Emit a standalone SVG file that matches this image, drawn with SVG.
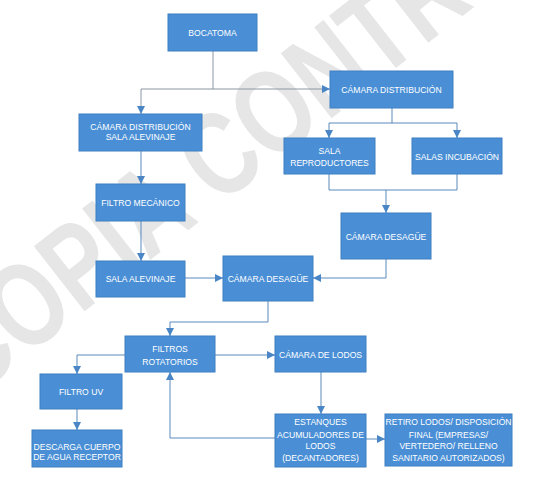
<svg xmlns="http://www.w3.org/2000/svg" width="547" height="477" viewBox="0 0 547 477">
<defs>
<style>
.bg{fill:#ffffff}
.wm{fill:#e6e6e6;font-family:"Liberation Sans",Arial,sans-serif;font-size:92px;font-weight:bold}
.box{fill:#4a8fd6;stroke:#3f7fc1;stroke-width:1}
.t{fill:#ffffff;font-family:"Liberation Sans",Arial,sans-serif;font-size:8.6px;text-anchor:middle}
.c{fill:none;stroke:#5b89bb;stroke-width:1}
.g{stroke:#8a96a3}
</style>
<marker id="ah" viewBox="0 0 10 10" refX="10" refY="5" markerWidth="8" markerHeight="8" markerUnits="userSpaceOnUse" orient="auto">
<path d="M0,0 L10,5 L0,10 z" fill="#4a86c5"/>
</marker>
</defs>
<rect class="bg" x="0" y="0" width="547" height="477"/>
<text class="wm" transform="translate(-29,400) rotate(-38) scale(1,1.3)">COPIA CONTROLADA</text>

<g id="connectors">
<path class="c g" d="M213,51 V89 H141 V114" marker-end="url(#ah)"/>
<path class="c g" d="M213,89 H330" marker-end="url(#ah)"/>
<path class="c" d="M392,108 V123 H329 V138" marker-end="url(#ah)"/>
<path class="c" d="M392,123 H457 V138" marker-end="url(#ah)"/>
<path class="c" d="M141,151 V184" marker-end="url(#ah)"/>
<path class="c" d="M141,221 V261" marker-end="url(#ah)"/>
<path class="c" d="M329,174 V190 H457 V174"/>
<path class="c" d="M386,190 V213" marker-end="url(#ah)"/>
<path class="c" d="M185,278 H223" marker-end="url(#ah)"/>
<path class="c" d="M386,259 V278 H313" marker-end="url(#ah)"/>
<path class="c" d="M268,301 V322 H170 V336" marker-end="url(#ah)"/>
<path class="c" d="M215,355 H275" marker-end="url(#ah)"/>
<path class="c" d="M125,355 H77 V374" marker-end="url(#ah)"/>
<path class="c" d="M77,409 V430" marker-end="url(#ah)"/>
<path class="c" d="M321,372 V414" marker-end="url(#ah)"/>
<path class="c" d="M366,439 H385" marker-end="url(#ah)"/>
<path class="c" d="M275,438 H170 V372" marker-end="url(#ah)"/>
</g>

<g id="bocatoma"><rect class="box" x="168" y="14" width="89" height="37"/><text class="t" x="212.5" y="35.6">BOCATOMA</text></g>
<g id="camara-distribucion"><rect class="box" x="330" y="71" width="123" height="37"/><text class="t" x="391.5" y="92.6">CÁMARA DISTRIBUCIÓN</text></g>
<g id="camara-distribucion-sala-alevinaje"><rect class="box" x="79" y="114" width="123" height="37"/><text class="t" x="140.5" y="129.8">CÁMARA DISTRIBUCIÓN</text><text class="t" x="140.5" y="140.4">SALA ALEVINAJE</text></g>
<g id="sala-reproductores"><rect class="box" x="284" y="138" width="91" height="36"/><text class="t" x="329.5" y="153.8">SALA</text><text class="t" x="329.5" y="166">REPRODUCTORES</text></g>
<g id="salas-incubacion"><rect class="box" x="412" y="138" width="90" height="36"/><text class="t" x="457" y="159.8">SALAS INCUBACIÓN</text></g>
<g id="filtro-mecanico"><rect class="box" x="96" y="184" width="89" height="37"/><text class="t" x="140.5" y="205.6">FILTRO MECÁNICO</text></g>
<g id="camara-desague-1"><rect class="box" x="341" y="213" width="90" height="46"/><text class="t" x="386" y="240.4">CÁMARA DESAGÜE</text></g>
<g id="sala-alevinaje"><rect class="box" x="96" y="261" width="89" height="36"/><text class="t" x="140.5" y="282.4">SALA ALEVINAJE</text></g>
<g id="camara-desague-2"><rect class="box" x="223" y="256" width="90" height="45"/><text class="t" x="268" y="282.4">CÁMARA DESAGÜE</text></g>
<g id="filtros-rotatorios"><rect class="box" x="125" y="336" width="90" height="36"/><text class="t" x="170" y="351.6">FILTROS</text><text class="t" x="170" y="364.6">ROTATORIOS</text></g>
<g id="camara-lodos"><rect class="box" x="275" y="336" width="91" height="36"/><text class="t" x="320.5" y="358.1">CÁMARA DE LODOS</text></g>
<g id="filtro-uv"><rect class="box" x="40" y="374" width="82" height="35"/><text class="t" x="81" y="394.8">FILTRO UV</text></g>
<g id="descarga"><rect class="box" x="32" y="430" width="90" height="37"/><text class="t" x="77" y="449.8">DESCARGA CUERPO</text><text class="t" x="77" y="459.8">DE AGUA RECEPTOR</text></g>
<g id="estanques"><rect class="box" x="275" y="414" width="91" height="53"/><text class="t" x="320.5" y="425">ESTANQUES</text><text class="t" x="320.5" y="437.5">ACUMULADORES DE</text><text class="t" x="320.5" y="449">LODOS</text><text class="t" x="320.5" y="461">(DECANTADORES)</text></g>
<g id="retiro-lodos"><rect class="box" x="385" y="414" width="127" height="52"/><text class="t" x="448.5" y="425">RETIRO LODOS/ DISPOSICIÓN</text><text class="t" x="448.5" y="437.5">FINAL (EMPRESAS/</text><text class="t" x="448.5" y="449">VERTEDERO/ RELLENO</text><text class="t" x="448.5" y="461">SANITARIO AUTORIZADOS)</text></g>
</svg>
